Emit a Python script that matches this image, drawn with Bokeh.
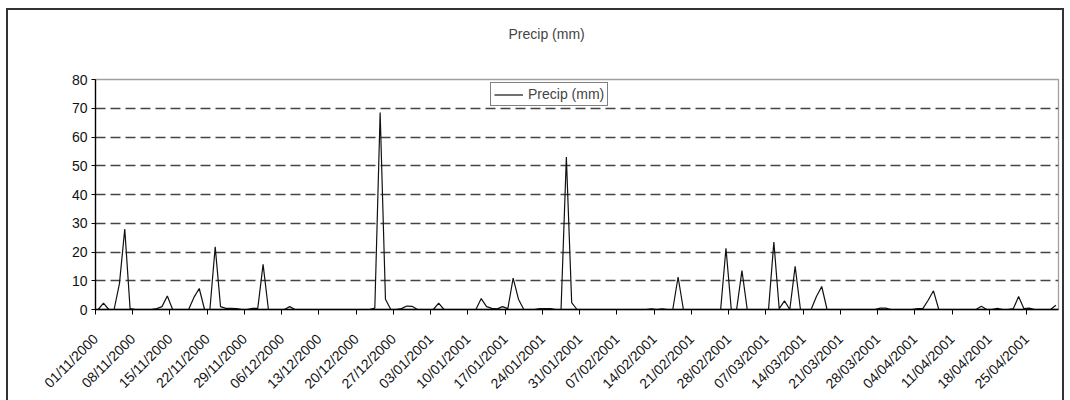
import pandas as pd
from math import pi
from bokeh.plotting import figure
from bokeh.models import (FixedTicker, Legend, LegendItem, Range1d,
                          ColumnDataSource, Title)
from bokeh.embed import file_html
from bokeh.resources import INLINE

# ---- data -------------------------------------------------------------
start_date = "2000-11-01"
series_name = "Precip (mm)"
precip_mm = [
    0, 2.2, 0, 0, 9, 28, 0.3,
    0, 0, 0, 0, 0.3, 1, 4.7,
    0, 0, 0, 0, 4.2, 7.3, 0,
    0, 21.8, 1, 0.4, 0.4, 0.3, 0,
    0, 0.4, 0.4, 15.7, 0, 0, 0,
    0, 1, 0, 0, 0, 0, 0,
    0, 0, 0, 0, 0, 0, 0,
    0, 0, 0, 0.5, 68.5, 3.6, 0,
    0, 0.3, 1.2, 1.1, 0, 0, 0,
    0, 2.2, 0, 0, 0, 0, 0,
    0, 0, 3.8, 1, 0.4, 0.2, 1,
    0.3, 10.9, 3.6, 0, 0, 0, 0.3,
    0.3, 0.3, 0, 0, 53, 2.4, 0,
    0, 0, 0, 0, 0, 0, 0,
    0, 0, 0, 0, 0, 0, 0.2,
    0, 0.2, 0, 0, 11.3, 0, 0,
    0, 0, 0, 0, 0, 0, 21.3,
    0, 0, 13.5, 0, 0, 0, 0,
    0, 23.5, 0.3, 3, 0, 15, 0,
    0, 0, 4.5, 8, 0, 0, 0,
    0, 0, 0, 0, 0, 0, 0,
    0.5, 0.5, 0, 0, 0, 0, 0,
    0.3, 0.3, 3.2, 6.5, 0, 0, 0,
    0, 0, 0, 0, 0, 1.1, 0,
    0, 0.4, 0, 0, 0.3, 4.5, 0.3,
    0.5, 0, 0, 0, 0, 1.5,
]
x_tick_labels = [
    "01/11/2000", "08/11/2000", "15/11/2000", "22/11/2000", "29/11/2000",
    "06/12/2000", "13/12/2000", "20/12/2000", "27/12/2000", "03/01/2001",
    "10/01/2001", "17/01/2001", "24/01/2001", "31/01/2001", "07/02/2001",
    "14/02/2001", "21/02/2001", "28/02/2001", "07/03/2001", "14/03/2001",
    "21/03/2001", "28/03/2001", "04/04/2001", "11/04/2001", "18/04/2001",
    "25/04/2001",
]
y_ticks = [0, 10, 20, 30, 40, 50, 60, 70, 80]

# ---- derived -------------------------------------------------------------
days = pd.date_range(start_date, periods=len(precip_mm), freq="D")
half_day = pd.Timedelta(hours=12)
src = ColumnDataSource(dict(x=days + half_day, y=precip_mm))

tick_dates = pd.to_datetime(x_tick_labels, format="%d/%m/%Y")
tick_ms = [float(t.value // 10**6) for t in tick_dates]

FONT = "Liberation Sans"

p = figure(
    width=1070, height=400,
    x_axis_type="datetime",
    output_backend="svg", toolbar_location=None,
    min_border_left=95, min_border_right=12,
    min_border_top=79, min_border_bottom=90,
    background_fill_color="white",
    border_fill_color="white", border_fill_alpha=0,
)
p.x_range = Range1d(days[0], days[-1] + 2 * half_day)
p.y_range = Range1d(0, 80)

# blank spacer between plot area and title (pushes the title up)
spacer = Title(text=" ", text_font_size="1px", standoff=30)
p.add_layout(spacer, "above")

p.title.text = series_name
p.title.align = "left"
p.title.offset = 413
p.title.text_font = FONT
p.title.text_font_size = "14px"
p.title.text_font_style = "normal"
p.title.standoff = 10

r = p.line("x", "y", source=src, line_color="#111111", line_width=1.2)

# axes
xa = p.xaxis[0]
xa.ticker = FixedTicker(ticks=tick_ms)
xa.major_label_overrides = {t: lab for t, lab in zip(tick_ms, x_tick_labels)}
xa.major_label_orientation = pi / 4
xa.major_label_text_font = FONT
xa.major_label_text_font_size = "14px"
xa.major_label_text_color = "#111111"
xa.major_tick_out = 5
xa.major_tick_in = 0
xa.minor_tick_out = 0
xa.minor_tick_in = 0
xa.axis_line_color = "black"
xa.axis_line_width = 1.3
xa.major_tick_line_color = "black"
xa.major_label_standoff = 22

ya = p.yaxis[0]
ya.ticker = FixedTicker(ticks=y_ticks)
ya.major_label_text_font = FONT
ya.major_label_text_font_size = "14px"
ya.major_label_text_color = "#111111"
ya.major_tick_out = 4
ya.major_tick_in = 0
ya.minor_tick_out = 0
ya.minor_tick_in = 0
ya.axis_line_color = "black"
ya.axis_line_width = 1.3
ya.major_label_standoff = 4

p.xgrid.visible = False
p.ygrid.ticker = FixedTicker(ticks=y_ticks[1:-1])
p.ygrid.grid_line_color = "#444444"
p.ygrid.grid_line_width = 1.5
p.ygrid.grid_line_dash = "10 5"

p.outline_line_color = "#a0a0a0"
p.outline_line_width = 1.3

legend = Legend(
    items=[LegendItem(label=series_name, renderers=[r])],
    location=(395, 203),
    margin=0, padding=3, spacing=0,
    glyph_width=29, glyph_height=15, label_height=15,
    label_standoff=5,
    label_text_font=FONT, label_text_font_size="14px",
    border_line_color="black", border_line_width=1,
    background_fill_color="white", background_fill_alpha=1,
)
p.add_layout(legend)

# outer chart-area border (top, left, right), drawn behind a transparent border fill
edge = "linear-gradient(#333333, #333333)"
p.styles = {
    "background": (
        f"{edge} 6px 8px / 1058px 2px no-repeat, "
        f"{edge} 6px 8px / 2px 400px no-repeat, "
        f"{edge} 1062px 8px / 2px 400px no-repeat, white"
    )
}

open("out.html", "w").write(file_html(p, INLINE))
